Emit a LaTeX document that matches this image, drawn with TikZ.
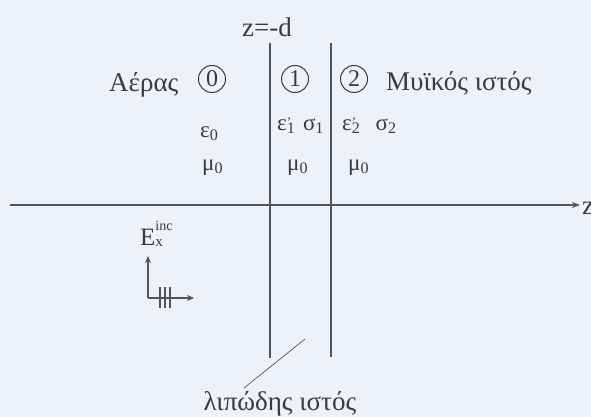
\documentclass[tikz,border=0pt]{standalone}
\usepackage{fontspec}
\setmainfont{Liberation Serif}
\usetikzlibrary{arrows.meta}
\definecolor{bg}{HTML}{EEF1F7}
\definecolor{ln}{HTML}{50545E}
\definecolor{tx}{HTML}{383B44}
\begin{document}
\begin{tikzpicture}[x=1pt,y=-1pt,
  lbl/.style={text=tx,font=\fontsize{27}{30}\selectfont,inner sep=0pt},
  sym/.style={text=tx,font=\fontsize{23}{26}\selectfont,inner sep=0pt,anchor=base west},
  circ/.style={draw=tx,circle,line width=1pt,minimum size=27pt,inner sep=0pt,text=tx,font=\fontsize{24}{26}\selectfont},
  axis/.style={draw=ln,line width=1.3pt},
  wall/.style={draw=ln,line width=2pt}]
\fill[bg] (0,0) rectangle (591,417);
\useasboundingbox (0,0) rectangle (591,417);
% axis
\coordinate (ax0) at (10,205);
\coordinate (ax1) at (580,205);
\draw[axis,-{Stealth[length=8pt,width=6pt]}] (ax0) -- (ax1);
\node[lbl,anchor=base west] (zl) at (582,214) {z};
% walls
\coordinate (w1t) at (270,43); \coordinate (w1b) at (270,358);
\coordinate (w2t) at (331,43); \coordinate (w2b) at (331,357);
\draw[wall] (w1t) -- (w1b);
\draw[wall] (w2t) -- (w2b);
\node[lbl,anchor=base] (zd) at (267,37) {z=-d};
% labels top
\node[lbl,anchor=base west] (aer) at (109,92) {Αέρας};
\node[circ] (c0) at (212,79) {0};
\node[circ] (c1) at (295,79) {1};
\node[circ] (c2) at (354,79) {2};
\node[lbl,anchor=base west] (myi) at (386,91) {Μυϊκός ιστός};
% parameters
\node[sym] (e0) at (200,137) {ε\textsubscript{0}};
\node[sym] (e1) at (277,130) {ε\rlap{\raisebox{4pt}{\fontsize{13}{13}\selectfont '}}\textsubscript{1}\,\,σ\textsubscript{1}};
\node[sym] (e2) at (342,130) {ε\rlap{\raisebox{4pt}{\fontsize{13}{13}\selectfont '}}\textsubscript{2}\,\,\,\,σ\textsubscript{2}};
\node[sym] (m0) at (202,170) {μ\textsubscript{0}};
\node[sym] (m1) at (287,170) {μ\textsubscript{0}};
\node[sym] (m2) at (348,170) {μ\textsubscript{0}};
% E field
\node[lbl,anchor=base west,font=\fontsize{25}{28}\selectfont] (E) at (140,245) {E\rlap{\raisebox{15pt}{\fontsize{14}{14}\selectfont inc}}\raisebox{-1pt}{\fontsize{15}{15}\selectfont x}};
\coordinate (o) at (148,298);
\coordinate (up) at (148,256);
\coordinate (rt) at (194,298);
\draw[axis,line width=1.3pt,-{Stealth[length=7pt,width=6pt]}] (o) -- (up);
\draw[axis,line width=1.3pt,-{Stealth[length=7pt,width=6pt]}] (o) -- (rt);
\foreach \xx in {160,165,170} \draw[ln,line width=1.2pt] (\xx,287) -- (\xx,308);
% fat tissue label
\node[lbl,anchor=base] (lip) at (280,410) {λιπώδης ιστός};
\coordinate (lp) at (305,339);
\draw[ln,line width=0.7pt] (244,388) -- (lp);
\end{tikzpicture}
\end{document}
